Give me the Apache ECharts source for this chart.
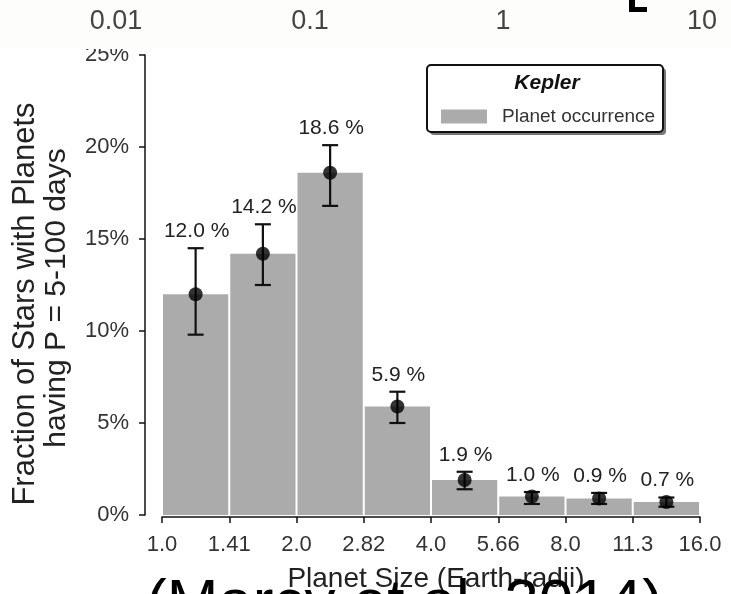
<!DOCTYPE html>
<html>
<head>
<meta charset="utf-8">
<script src="https://cdn.jsdelivr.net/npm/echarts@6/dist/echarts.min.js"></script>
<style>
  html, body { margin: 0; padding: 0; background: #ffffff; }
  #chart { width: 731px; height: 594px; }
</style>
</head>
<body>
<div id="chart"></div>
<script>
// Planet-size bins (Earth radii), edges on a log2 scale
const binEdges = ['1.0', '1.41', '2.0', '2.82', '4.0', '5.66', '8.0', '11.3', '16.0'];
// Fraction of stars hosting a planet in each bin (%), P = 5-100 days
const occurrence = [12.0, 14.2, 18.6, 5.9, 1.9, 1.0, 0.9, 0.7];
// Lower / upper ends of the uncertainty bars (%)
const errLow = [9.8, 12.5, 16.8, 5.0, 1.4, 0.6, 0.6, 0.45];
const errHigh = [14.5, 15.8, 20.1, 6.7, 2.35, 1.25, 1.2, 0.95];
// Y-axis tick labels
const yTickLabels = ['0%', '5%', '10%', '15%', '20%', '25%'];
// Scale labels along the top strip
const topScaleLabels = ['0.01', '0.1', '1', '10'];

const FONT = '"Liberation Sans", Arial, Helvetica, sans-serif';
const BAR_COLOR = '#ababab';

const chart = echarts.init(document.getElementById('chart'), null, { renderer: 'canvas' });

const barData = occurrence.map((v, i) => [i, v]);
const errData = occurrence.map((v, i) => [i + 0.5, errLow[i], errHigh[i], v]);
const dotData = occurrence.map((v, i) => [i + 0.5, v]);

const topXs = [116, 310, 503, 702];

const option = {
  backgroundColor: '#ffffff',
  animation: false,
  grid: { left: 162, right: 31, top: 55, bottom: 79, containLabel: false },
  legend: {
    data: ['Planet occurrence'],
    left: 436,
    top: 102,
    icon: 'rect',
    itemWidth: 46,
    itemHeight: 14,
    selectedMode: false,
    textStyle: { fontFamily: FONT, fontSize: 19, color: '#333', padding: [0, 0, 0, 10] },
    z: 20
  },
  xAxis: {
    type: 'value',
    min: 0,
    max: 8,
    interval: 1,
    offset: 2,
    axisLine: { show: true, onZero: false, lineStyle: { color: '#111', width: 1.5 } },
    axisTick: { show: true, length: 6, lineStyle: { color: '#111', width: 1.5 } },
    axisLabel: {
      margin: 17,
      fontFamily: FONT,
      fontSize: 22,
      color: '#333',
      formatter: v => binEdges[v]
    },
    splitLine: { show: false }
  },
  yAxis: {
    type: 'value',
    min: 0,
    max: 25,
    interval: 5,
    position: 'left',
    offset: 17,
    axisLine: { show: true, onZero: false, lineStyle: { color: '#111', width: 1.5 } },
    axisTick: { show: true, length: 6, lineStyle: { color: '#111', width: 1.5 } },
    axisLabel: {
      margin: 16,
      fontFamily: FONT,
      fontSize: 22,
      color: '#333',
      formatter: v => yTickLabels[Math.round(v / 5)]
    },
    splitLine: { show: false }
  },
  series: [
    {
      name: 'Planet occurrence',
      type: 'custom',
      itemStyle: { color: BAR_COLOR },
      data: barData,
      encode: { x: 0, y: 1 },
      renderItem: function (params, api) {
        const i = api.value(0);
        const v = api.value(1);
        const p0 = api.coord([i, 0]);
        const p1 = api.coord([i + 1, v]);
        return {
          type: 'rect',
          shape: { x: p0[0] + 1, y: p1[1], width: p1[0] - p0[0] - 2, height: p0[1] - p1[1] },
          style: { fill: BAR_COLOR }
        };
      },
      z: 2
    },
    {
      name: 'uncertainty',
      type: 'custom',
      data: errData,
      encode: { x: 0, y: [1, 2] },
      renderItem: function (params, api) {
        const x = api.value(0);
        const lo = api.coord([x, api.value(1)]);
        const hi = api.coord([x, api.value(2)]);
        const val = api.value(3);
        const cap = 8;
        const line = { stroke: '#111', lineWidth: 2.2 };
        return {
          type: 'group',
          children: [
            { type: 'line', shape: { x1: lo[0], y1: lo[1], x2: hi[0], y2: hi[1] }, style: line },
            { type: 'line', shape: { x1: hi[0] - cap, y1: hi[1], x2: hi[0] + cap, y2: hi[1] }, style: line },
            { type: 'line', shape: { x1: lo[0] - cap, y1: lo[1], x2: lo[0] + cap, y2: lo[1] }, style: line },
            {
              type: 'text',
              x: hi[0] + 1,
              y: hi[1] - 17,
              style: {
                text: val.toFixed(1) + ' %',
                fill: '#222',
                font: '21px ' + FONT,
                align: 'center',
                verticalAlign: 'middle'
              }
            }
          ]
        };
      },
      z: 3
    },
    {
      name: 'mean',
      type: 'scatter',
      data: dotData,
      symbol: 'circle',
      symbolSize: 14,
      itemStyle: { color: '#000' },
      z: 4
    }
  ],
  graphic: [
    // y-axis title (two lines)
    {
      type: 'text', x: 25, y: 304, rotation: Math.PI / 2, z: 10,
      style: { text: 'Fraction of Stars with Planets', font: '31px ' + FONT, fill: '#222', align: 'center', verticalAlign: 'middle' }
    },
    {
      type: 'text', x: 57, y: 298, rotation: Math.PI / 2, z: 10,
      style: { text: 'having P = 5-100 days', font: '30px ' + FONT, fill: '#222', align: 'center', verticalAlign: 'middle' }
    },
    // x-axis title
    {
      type: 'text', x: 436, y: 579, z: 10,
      style: { text: 'Planet Size (Earth-radii)', font: '28px ' + FONT, fill: '#222', align: 'center', verticalAlign: 'middle' }
    },
    // legend frame with drop shadow
    { type: 'rect', z: 15, shape: { x: 430, y: 68, width: 236, height: 67, r: 4 }, style: { fill: '#777' } },
    { type: 'rect', z: 16, shape: { x: 427, y: 65, width: 236, height: 67, r: 4 }, style: { fill: '#fff', stroke: '#111', lineWidth: 2 } },
    {
      type: 'text', x: 547, y: 83, z: 17,
      style: { text: 'Kepler', font: 'italic bold 21px ' + FONT, fill: '#111', align: 'center', verticalAlign: 'middle' }
    },
    // citation, running off the bottom edge
    {
      type: 'text', x: 146, y: 605, z: 30,
      style: { text: '(Marcy et al. 2014)', font: '62px ' + FONT, fill: '#000', align: 'left', verticalAlign: 'middle' }
    },
    // top strip carrying the log-scale labels
    { type: 'rect', z: 40, shape: { x: 0, y: 0, width: 731, height: 49 }, style: { fill: '#fdfdfb' } },
    ...topScaleLabels.map((t, k) => ({
      type: 'text', x: topXs[k], y: 22, z: 41,
      style: { text: t, font: '27px ' + FONT, fill: '#444', align: 'center', verticalAlign: 'middle' }
    })),
    // bottom corner of a bracket glyph at the top edge
    { type: 'rect', z: 42, shape: { x: 629, y: 0, width: 6, height: 12 }, style: { fill: '#000' } },
    { type: 'rect', z: 42, shape: { x: 629, y: 7, width: 18, height: 5 }, style: { fill: '#000' } }
  ]
};

chart.setOption(option);
</script>
</body>
</html>
